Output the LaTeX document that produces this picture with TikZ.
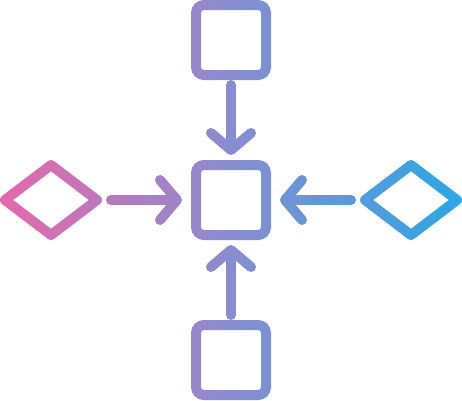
\documentclass[tikz,border=0pt]{standalone}
\usetikzlibrary{positioning,shapes.geometric,arrows.meta,calc}

\definecolor{iconpink}{RGB}{234,102,170}
\definecolor{iconviolet}{RGB}{136,141,208}
\definecolor{iconblue}{RGB}{40,168,230}

\tikzset{
  box/.style={draw=black, line width=10pt, rectangle, rounded corners=8pt,
    minimum size=70pt, inner sep=0pt, outer sep=0pt},
  gem/.style={draw=black, line width=10pt, diamond, line join=round,
    minimum width=92pt, minimum height=70pt, inner sep=0pt, outer sep=0pt},
  flow/.style={draw=black, line width=10pt, line cap=round,
    -{Straight Barb[round, length=17pt, width=40pt]}}
}

\begin{document}
\begin{tikzpicture}[x=1pt, y=1pt, node distance=160pt, on grid]

    \useasboundingbox (-231,-200) rectangle (231,200);
    \fill[white] (-240,-210) rectangle (240,210);

    \node[box] (box_mid) {};
    \node[box] (box_top) [above=of box_mid] {};
    \node[box] (box_bot) [below=of box_mid] {};
    \node[gem] (gem_l) [left=180pt of box_mid] {};
    \node[gem] (gem_r) [right=180pt of box_mid] {};

    \path[flow]
    (box_top) edge[shorten <=10pt, shorten >=10pt] (box_mid)
    (box_bot) edge[shorten <=10pt, shorten >=10pt] (box_mid)
    (gem_l) edge[shorten <=14pt, shorten >=14pt] (box_mid)
    (gem_r) edge[shorten <=14pt, shorten >=14pt] (box_mid)
    ;

    % paint the black strokes with the left-to-right gradient
    \begin{scope}[blend mode=screen]
      \shade[left color=iconpink, right color=iconblue, middle color=iconviolet]
      (-240,-210) rectangle (240,210);
    \end{scope}
  \end{tikzpicture}
\end{document}
